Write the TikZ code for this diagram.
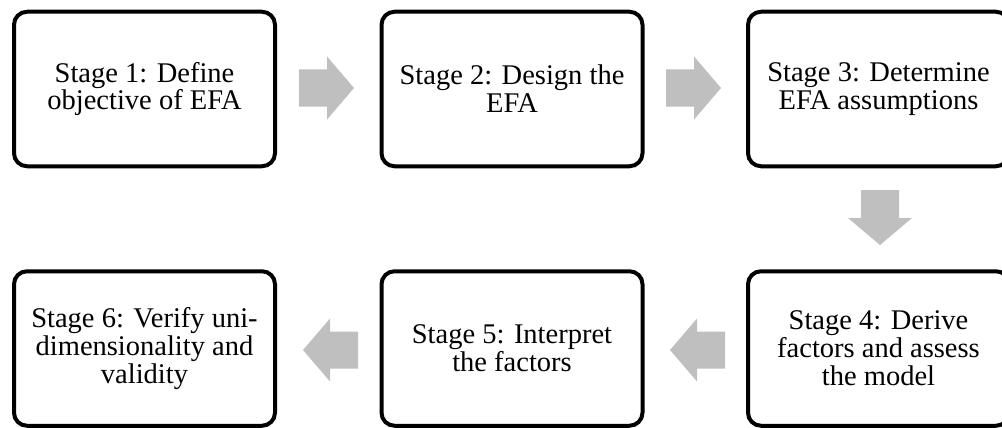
\documentclass[tikz,border=0pt]{standalone}
\usepackage{fontspec}
\setmainfont{Liberation Serif}
\begin{document}
\begin{tikzpicture}[x=1pt,y=-1pt,
  stagebox/.style={draw=black, line width=4pt, rounded corners=13pt, fill=white,
    minimum width=261pt, minimum height=154.5pt, align=center, inner sep=0pt,
    font=\fontsize{28.5}{28}\selectfont},
  blockarrow/.style={fill=black!25, draw=none}]
\useasboundingbox (0,0) rectangle (1002,428);
\clip (0,0) rectangle (1002,428);
\node[stagebox] (s1) at (144.5,89) {Stage 1: Define\\objective of EFA};
\node[stagebox] (s2) at (512,89) {Stage 2: Design the\\EFA};
\node[stagebox] (s3) at (878.5,89) {Stage 3: Determine\\EFA assumptions};
\node[stagebox] (s4) at (878.5,348.5) {Stage 4: Derive\\factors and assess\\the model};
\node[stagebox] (s5) at (512,348.5) {Stage 5: Interpret\\the factors};
\node[stagebox] (s6) at (144.5,348.5) {Stage 6: Verify uni-\\dimensionality and\\validity};
% right arrows
\coordinate (a12) at (299,88);
\fill[blockarrow] (a12) ++(0,-18.5) -- ++(28,0) -- ++(0,-13) -- ++(27,31.5) -- ++(-27,31.5) -- ++(0,-13) -- ++(-28,0) -- cycle;
\coordinate (a23) at (666,88);
\fill[blockarrow] (a23) ++(0,-18.5) -- ++(28,0) -- ++(0,-13) -- ++(27,31.5) -- ++(-27,31.5) -- ++(0,-13) -- ++(-28,0) -- cycle;
% down arrow
\coordinate (a34) at (880,190);
\fill[blockarrow] (a34) ++(-19,0) -- ++(0,28) -- ++(-13,0) -- ++(32,27) -- ++(32,-27) -- ++(-13,0) -- ++(0,-28) -- cycle;
% left arrows
\coordinate (a45) at (725,350);
\fill[blockarrow] (a45) ++(0,-18.5) -- ++(-28,0) -- ++(0,-13) -- ++(-27,31.5) -- ++(27,31.5) -- ++(0,-13) -- ++(28,0) -- cycle;
\coordinate (a56) at (358,350);
\fill[blockarrow] (a56) ++(0,-18.5) -- ++(-28,0) -- ++(0,-13) -- ++(-27,31.5) -- ++(27,31.5) -- ++(0,-13) -- ++(28,0) -- cycle;
\end{tikzpicture}
\end{document}
